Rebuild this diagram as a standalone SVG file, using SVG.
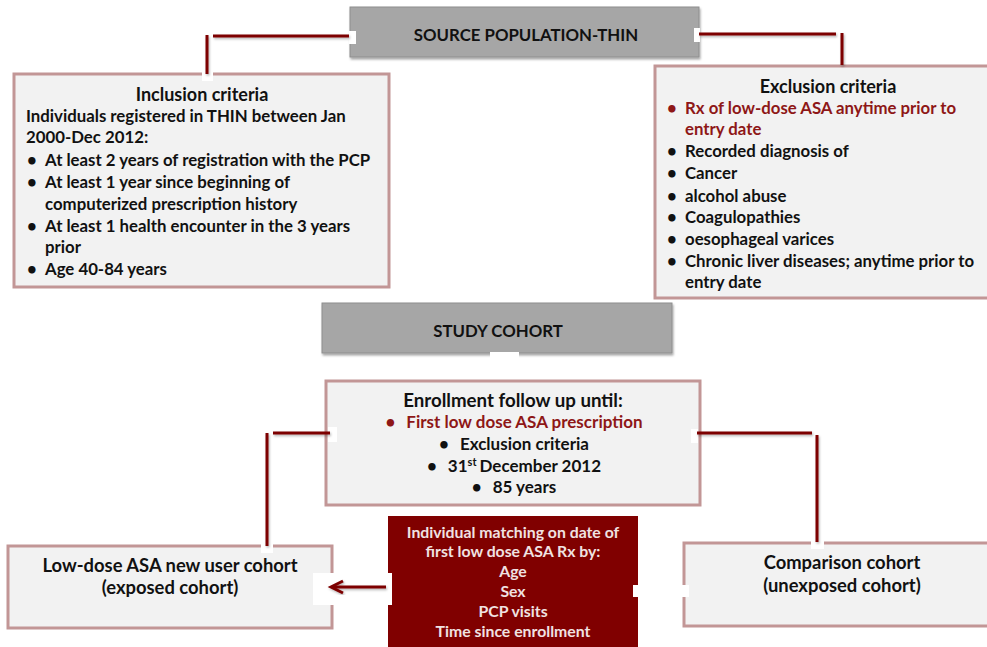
<svg xmlns="http://www.w3.org/2000/svg" width="987" height="647" viewBox="0 0 987 647">
<defs>
<filter id="sh" x="-20%" y="-20%" width="140%" height="160%">
<feDropShadow dx="1" dy="2" stdDeviation="1.2" flood-color="#000" flood-opacity="0.35"/>
</filter>
<filter id="lsh" x="-10%" y="-10%" width="120%" height="120%">
<feDropShadow dx="1" dy="1.5" stdDeviation="0.8" flood-color="#000" flood-opacity="0.3"/>
</filter>
</defs>
<style>
text{font-family:Lato,"Liberation Sans",Arial,sans-serif;font-weight:bold;fill:#111}
.hdr{fill:#a6a6a6;stroke:#8e8e8e;stroke-width:1}
.box{fill:#f2f2f2;stroke:#c29696;stroke-width:3}
.t15{font-size:16.8px}
.t16{font-size:16.8px}
.th{font-size:18px}
.t17{font-size:17px}
.t18{font-size:18.4px}
.red{fill:#8e1717}
.wt{fill:#f0e2e2;font-size:15.8px}
.ln{stroke:#7d0000;stroke-width:3;fill:none}
.wp{fill:#fff}
.mid{text-anchor:middle}
</style>
<rect width="987" height="647" fill="#fff"/>

<g id="source">
<rect class="hdr" x="350" y="7" width="349" height="50" filter="url(#sh)"/>
<text class="t16 mid" x="526" y="41">SOURCE POPULATION-THIN</text>
</g>

<g id="inclusion">
<rect class="box" x="14" y="74" width="375" height="213"/>
<text class="th mid" x="202" y="101">Inclusion criteria</text>
<text class="t15" x="26" y="122">Individuals registered in THIN between Jan</text>
<text class="t15" x="26" y="143">2000-Dec 2012:</text>
<text class="t15" x="27" y="166">•</text><text class="t15" x="45" y="166">At least 2 years of registration with the PCP</text>
<text class="t15" x="27" y="188">•</text><text class="t15" x="45" y="188">At least 1 year since beginning of</text>
<text class="t15" x="45" y="210">computerized prescription history</text>
<text class="t15" x="27" y="232">•</text><text class="t15" x="45" y="232">At least 1 health encounter in the 3 years</text>
<text class="t15" x="45" y="253">prior</text>
<text class="t15" x="27" y="275">•</text><text class="t15" x="45" y="275">Age 40-84 years</text>
</g>

<g id="exclusion">
<rect class="box" x="655" y="66" width="340" height="232"/>
<text class="th mid" x="828" y="93">Exclusion criteria</text>
<text class="t15 red" x="667" y="114">•</text><text class="t15 red" x="685" y="114">Rx of low-dose ASA anytime prior to</text>
<text class="t15 red" x="685" y="135">entry date</text>
<text class="t15" x="667" y="157">•</text><text class="t15" x="685" y="157">Recorded diagnosis of</text>
<text class="t15" x="667" y="179">•</text><text class="t15" x="685" y="179">Cancer</text>
<text class="t15" x="667" y="202">•</text><text class="t15" x="685" y="202">alcohol abuse</text>
<text class="t15" x="667" y="223">•</text><text class="t15" x="685" y="223">Coagulopathies</text>
<text class="t15" x="667" y="245">•</text><text class="t15" x="685" y="245">oesophageal varices</text>
<text class="t15" x="667" y="267">•</text><text class="t15" x="685" y="267">Chronic liver diseases; anytime prior to</text>
<text class="t15" x="685" y="288">entry date</text>
</g>

<g id="study">
<rect class="hdr" x="322" y="303" width="350" height="50" filter="url(#sh)"/>
<text class="t16 mid" x="498" y="337">STUDY COHORT</text>
</g>

<g id="enrollment">
<rect class="box" x="326" y="381" width="374" height="124"/>
<text class="mid" font-size="18.7" x="513" y="407">Enrollment follow up until:</text>
<text class="t17 mid red" x="514" y="428">•<tspan dx="11">First low dose ASA prescription</tspan></text>
<text class="t17 mid" x="514" y="450">•<tspan dx="11">Exclusion criteria</tspan></text>
<text class="t17 mid" x="514" y="472">•<tspan dx="11">31</tspan><tspan font-size="11" dy="-6">st</tspan><tspan dy="6" dx="3">December 2012</tspan></text>
<text class="t17 mid" x="514" y="493">•<tspan dx="11">85 years</tspan></text>
</g>

<g id="lowdose">
<rect class="box" x="8" y="546" width="324" height="82"/>
<text class="t18 mid" x="170" y="572">Low-dose ASA new user cohort</text>
<text class="t18 mid" x="170" y="594">(exposed cohort)</text>
</g>

<g id="comparison">
<rect class="box" x="684" y="543" width="310" height="83"/>
<text class="t18 mid" x="842" y="569">Comparison cohort</text>
<text class="t18 mid" x="842" y="592">(unexposed cohort)</text>
</g>

<g id="matching">
<rect x="388" y="516" width="250" height="135" fill="#800000"/>
<text class="wt mid" x="513" y="538">Individual matching on date of</text>
<text class="wt mid" x="513" y="557">first low dose ASA Rx by:</text>
<text class="wt mid" x="513" y="577">Age</text>
<text class="wt mid" x="513" y="597">Sex</text>
<text class="wt mid" x="513" y="617">PCP visits</text>
<text class="wt mid" x="513" y="637">Time since enrollment</text>
</g>

<g id="connectors">
<rect class="wp" x="349" y="31" width="7" height="13"/>
<rect class="wp" x="202" y="70" width="11" height="11"/>
<g filter="url(#lsh)">
<path class="ln" d="M349,36 H213"/>
<path class="ln" d="M207,35 V74"/>
</g>
<rect class="wp" x="694" y="28" width="6" height="14"/>
<g filter="url(#lsh)">
<path class="ln" d="M699,34 H836"/>
<path class="ln" d="M842,33 V65"/>
</g>
<rect class="wp" x="490" y="352" width="29" height="8"/>
<path class="ln" d="M504,357 V381" stroke-width="5" filter="url(#lsh)"/>
<rect class="wp" x="328" y="427" width="9" height="15"/>
<rect class="wp" x="261" y="541" width="12" height="12"/>
<g filter="url(#lsh)">
<path class="ln" d="M330,433 H273"/>
<path class="ln" d="M267,433 V546"/>
</g>
<rect class="wp" x="691" y="429" width="7" height="14"/>
<rect class="wp" x="811" y="540" width="13" height="9"/>
<g filter="url(#lsh)">
<path class="ln" d="M697,433 H812"/>
<path class="ln" d="M817,435 V542"/>
</g>
<rect class="wp" x="313" y="573" width="79" height="32"/>
<g filter="url(#lsh)">
<path class="ln" d="M386,587 H332"/>
<path class="ln" d="M343,581 L331,587 L343,593"/>
</g>
<rect class="wp" x="633" y="585" width="56" height="12"/>
<path class="ln" d="M637,589 H685" filter="url(#lsh)"/>
</g>
</svg>
